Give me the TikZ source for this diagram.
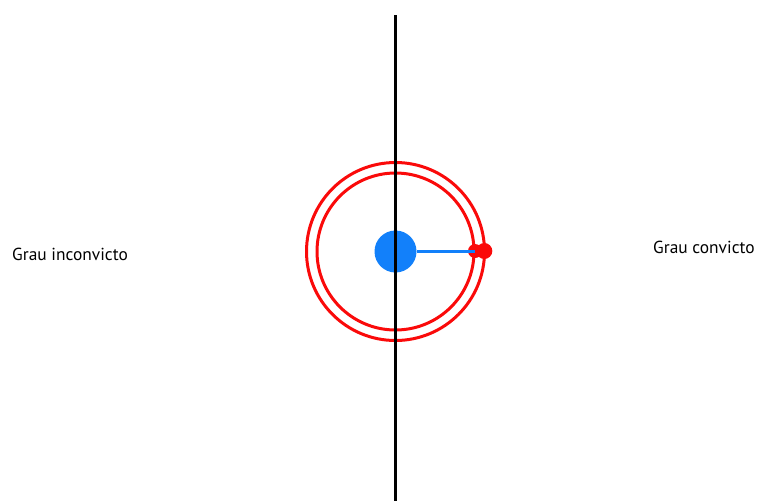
\documentclass[tikz,border=0pt]{standalone}
\usepackage{fontspec}
\setmainfont{PT Sans}
\definecolor{dotblue}{RGB}{18,128,250}
\definecolor{ringred}{RGB}{250,10,10}
\tikzset{
  ring/.style={draw=ringred, line width=3pt},
  lbl/.style={inner sep=0pt, font=\fontsize{17.4}{20}\selectfont, anchor=west},
}
\begin{document}
\begin{tikzpicture}[x=1pt,y=-1pt]
\useasboundingbox (0,0) rectangle (757,501);
\coordinate (c) at (395.5,251.5);
\coordinate (top) at (395.5,15);
\coordinate (bot) at (395.5,501);
\draw[ring] (c) circle[radius=89];
\draw[ring] (c) circle[radius=78.5];
\node[circle, fill=dotblue, minimum size=42pt, inner sep=0pt] (blue) at (c) {};
\node[circle, fill=ringred, minimum size=16pt, inner sep=0pt] (r2) at (484.3,251) {};
\node[circle, fill=ringred, minimum size=14pt, inner sep=0pt] (r1) at (475,251) {};
\draw[dotblue, line width=3pt] (blue.east |- r1) -- (r1.center);
\draw[black, line width=3pt] (top) -- (bot);
\node[lbl] (l) at (12,254) {Grau inconvicto};
\node[lbl] (r) at (653,247) {Grau convicto};
\end{tikzpicture}
\end{document}
